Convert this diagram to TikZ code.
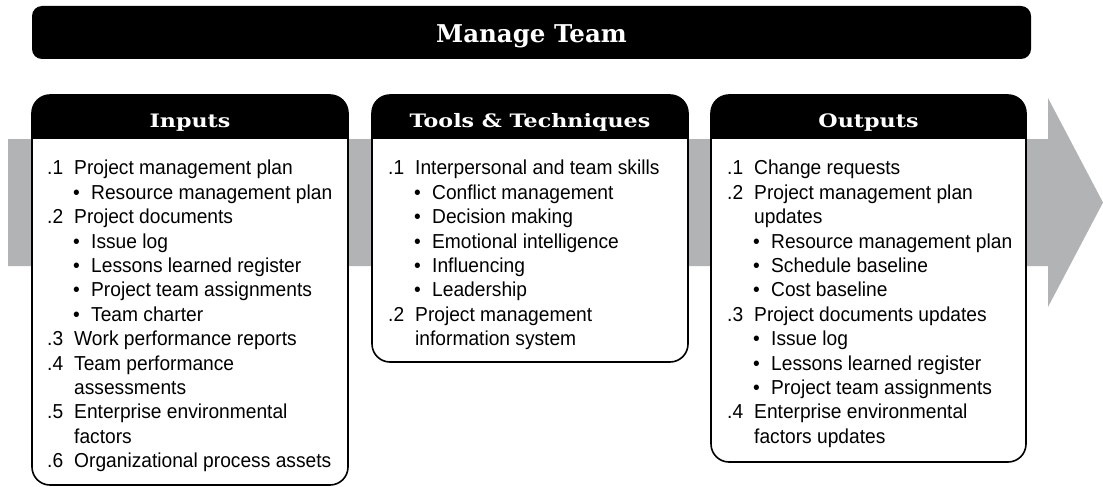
\documentclass[tikz,border=0pt]{standalone}
\usepackage{fontspec}
\setmainfont{Liberation Sans}[FakeStretch=0.95]
\newfontfamily\slabfont{DejaVu Serif}
\newfontfamily\slabwide{DejaVu Serif}[FakeStretch=1.2]

\definecolor{flowgray}{RGB}{177,179,181}

% list helpers: number column, bullet, continued line
\newcommand{\nr}[1]{\makebox[27pt][l]{#1}}
\newcommand{\bu}{\hspace*{26pt}\makebox[18pt][l]{\textbullet}}
\newcommand{\cn}{\hspace*{27pt}}

% a panel with a black header band: left, right, bottom
\newcommand{\stagebox}[3]{%
  \fill[white, rounded corners=18pt] (#1,95) rectangle (#2,#3);
  \begin{scope}
    \clip[rounded corners=18pt] (#1,95) rectangle (#2,#3);
    \fill (#1,95) rectangle (#2,139);
  \end{scope}
  \draw[boxline, rounded corners=18pt] (#1,95) rectangle (#2,#3);
}

\tikzset{
  boxline/.style={line width=1.6pt},
  hdr/.style={text=white, inner sep=0pt, anchor=base,
    font=\slabwide\bfseries\fontsize{18.5}{20}\selectfont},
  lst/.style={align=left, inner sep=0pt, anchor=north west,
    font=\fontsize{20.2}{24.4}\selectfont},
}

\begin{document}
\begin{tikzpicture}[x=1pt, y=-1pt]
    \useasboundingbox (0,0) rectangle (1103,487);
    % flow arrow
    \fill[flowgray] (8,139) -- (1048,139) -- (1048,98) -- (1103,202.5)
        -- (1048,307) -- (1048,266) -- (8,266) -- cycle;
    % title
    \fill[rounded corners=10pt] (32,6) rectangle (1031,59);
    \node[hdr, font=\slabfont\bfseries\fontsize{24.5}{28}\selectfont] (title) at (531.5,43) {Manage Team};
    % panels
    \stagebox{32}{348}{485}
    \stagebox{372}{688}{362}
    \stagebox{711}{1026}{462}
    \node[hdr] (inHead) at (190,127) {Inputs};
    \node[hdr] (toolHead) at (530,127) {Tools \& Techniques};
    \node[hdr] (outHead) at (868.5,127) {Outputs};
    % inputs
    \node[lst] (inList) at (47,160) {%
        \nr{.1}Project management plan\\
        \bu Resource management plan\\
        \nr{.2}Project documents\\
        \bu Issue log\\
        \bu Lessons learned register\\
        \bu Project team assignments\\
        \bu Team charter\\
        \nr{.3}Work performance reports\\
        \nr{.4}Team performance\\
        \cn assessments\\
        \nr{.5}Enterprise environmental\\
        \cn factors\\
        \nr{.6}Organizational process assets};
    % tools and techniques
    \node[lst] (toolList) at (388,160) {%
        \nr{.1}Interpersonal and team skills\\
        \bu Conflict management\\
        \bu Decision making\\
        \bu Emotional intelligence\\
        \bu Influencing\\
        \bu Leadership\\
        \nr{.2}Project management\\
        \cn information system};
    % outputs
    \node[lst] (outList) at (727,160) {%
        \nr{.1}Change requests\\
        \nr{.2}Project management plan\\
        \cn updates\\
        \bu Resource management plan\\
        \bu Schedule baseline\\
        \bu Cost baseline\\
        \nr{.3}Project documents updates\\
        \bu Issue log\\
        \bu Lessons learned register\\
        \bu Project team assignments\\
        \nr{.4}Enterprise environmental\\
        \cn factors updates};
\end{tikzpicture}
\end{document}
